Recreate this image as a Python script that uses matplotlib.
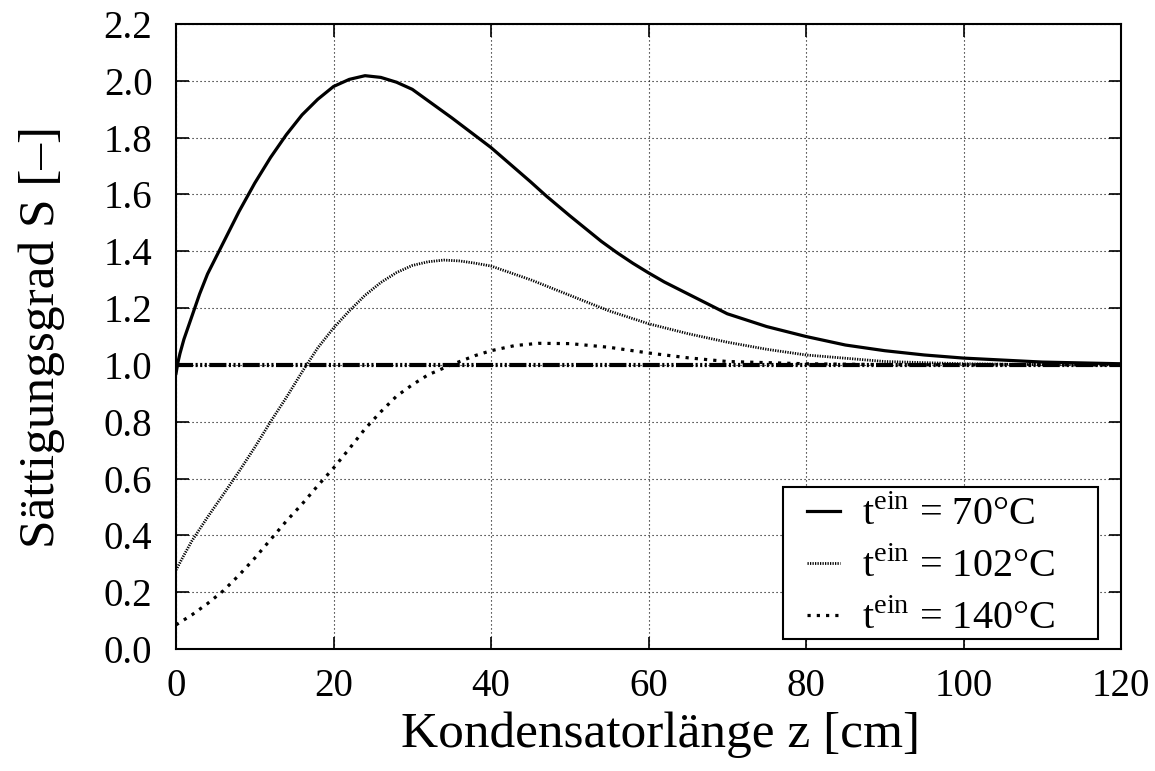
import numpy as np
import matplotlib
matplotlib.use('Agg')
from matplotlib import pyplot
from matplotlib.patches import Rectangle

pyplot.rcParams['font.family'] = ['Liberation Serif', 'DejaVu Serif']
pyplot.rcParams['mathtext.fontset'] = 'custom'
pyplot.rcParams['mathtext.rm'] = 'Liberation Serif'

# Saettigungsgrad entlang des Kondensators
z_70 = [0, 0.25, 0.5, 1, 2, 3, 4, 5, 6, 8, 10, 12, 14, 16, 18, 20, 22, 24, 26, 28, 30, 32, 35,
        40, 45, 47, 50, 52, 54, 56, 58, 60, 62, 65, 70, 75, 80, 85, 90, 95, 100, 110, 120]
s_70 = [0.97, 1.01, 1.04, 1.09, 1.17, 1.25, 1.32, 1.375, 1.43, 1.54, 1.64, 1.73, 1.81, 1.88,
        1.935, 1.98, 2.005, 2.018, 2.012, 1.995, 1.97, 1.93, 1.87, 1.765, 1.645, 1.595, 1.525,
        1.48, 1.435, 1.395, 1.358, 1.324, 1.292, 1.25, 1.18, 1.135, 1.10, 1.07, 1.05, 1.035,
        1.024, 1.01, 1.004]

z_102 = [0, 1, 2, 4, 6, 8, 10, 12, 14, 16, 18, 20, 22, 24, 26, 28, 30, 32, 34, 36, 38, 40,
         45, 50, 55, 60, 65, 70, 75, 80, 90, 100, 110, 120]
s_102 = [0.278, 0.33, 0.38, 0.464, 0.544, 0.625, 0.71, 0.80, 0.885, 0.975, 1.06, 1.13, 1.19,
         1.245, 1.29, 1.325, 1.35, 1.363, 1.369, 1.366, 1.358, 1.348, 1.30, 1.245, 1.19, 1.145,
         1.11, 1.08, 1.055, 1.035, 1.012, 1.004, 1.001, 1.0]

z_140 = [0, 2, 4, 6, 8, 10, 12, 14, 16, 18, 20, 22, 24, 26, 28, 30, 32, 35, 38, 40, 43, 46,
         50, 55, 60, 65, 70, 80, 90, 100, 120]
s_140 = [0.085, 0.12, 0.16, 0.205, 0.26, 0.32, 0.385, 0.45, 0.51, 0.575, 0.637, 0.705, 0.775,
         0.835, 0.89, 0.93, 0.965, 1.001, 1.033, 1.05, 1.068, 1.076, 1.075, 1.062, 1.042,
         1.025, 1.012, 1.004, 1.001, 1.0, 1.0]

z_ref = [0, 120]
s_ref = [1.0, 1.0]

labels = [r't$^{\mathrm{ein}}$ = 70°C', r't$^{\mathrm{ein}}$ = 102°C', r't$^{\mathrm{ein}}$ = 140°C']

fig = pyplot.figure(figsize=(11.55, 7.71), dpi=100)
ax = fig.add_axes([0.1524, 0.1582, 0.8182, 0.8107])

ax.plot(z_ref, s_ref, color='black', lw=3.0,
        linestyle=(0, (4.1, 0.6, 0.5, 0.6, 0.5, 0.6, 0.5, 0.6)))
ax.plot(z_70, s_70, color='black', lw=2.3, label=labels[0])
ax.plot(z_102, s_102, color='black', lw=2.0, linestyle=(0, (0.45, 0.45)), label=labels[1])
ax.plot(z_140, s_140, color='black', lw=2.3, linestyle=(0, (1, 1.9)), label=labels[2])

ax.set_xlim(0, 120)
ax.set_ylim(0, 2.2)
ax.set_xticks(np.arange(0, 121, 20))
ax.set_yticks(np.arange(0, 2.21, 0.2))
ax.set_yticklabels(['%.1f' % v for v in np.arange(0, 2.21, 0.2)])
ax.grid(True, color='black', lw=0.8, linestyle=(0, (1, 2.6)))
ax.tick_params(direction='in', length=9, width=1.2, top=True, right=True, labelsize=28)
ax.tick_params(axis='x', pad=14)
ax.tick_params(axis='y', pad=17)
for s in ax.spines.values():
    s.set_linewidth(1.5)

ax.set_xlabel('Kondensatorlänge z [cm]', fontsize=37)
ax.xaxis.set_label_coords(0.513, -0.1)
ax.set_ylabel('Sättigungsgrad S [–]', fontsize=37, labelpad=28)

# legend frame drawn separately (wider on the right than matplotlib pads)
ax.add_patch(Rectangle((0.6423, 0.016), 0.3333, 0.2432, transform=ax.transAxes,
                       facecolor='white', edgecolor='black', lw=1.5, zorder=4))
leg = ax.legend(loc='center left', bbox_to_anchor=(0.6677, 0.131), borderaxespad=0,
                borderpad=0, fontsize=29, handlelength=0.82, handletextpad=0.55,
                labelspacing=0.35, frameon=False)
leg.set_zorder(5)

fig.savefig('out.png', dpi=100)
